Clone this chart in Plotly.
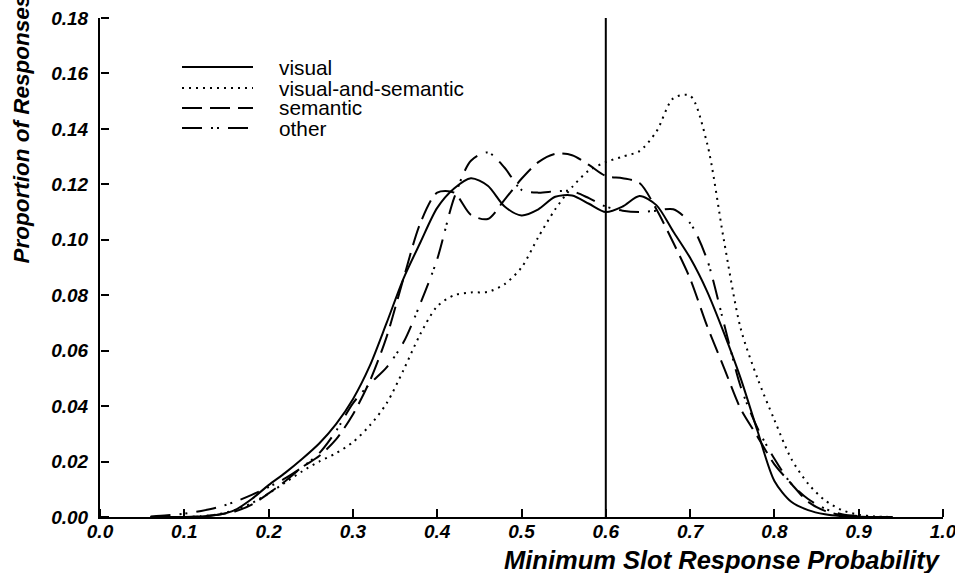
import plotly.graph_objects as go

# ---- data ----
x_grid = [0.06, 0.08, 0.10, 0.12, 0.14, 0.16, 0.18, 0.20, 0.22, 0.24, 0.26, 0.28,
          0.30, 0.32, 0.34, 0.36, 0.38, 0.40, 0.42, 0.44, 0.46, 0.48, 0.50, 0.52,
          0.54, 0.56, 0.58, 0.60, 0.62, 0.64, 0.66, 0.68, 0.70, 0.72, 0.74, 0.76,
          0.78, 0.80, 0.82, 0.84, 0.86, 0.88, 0.90, 0.92, 0.94]

visual = [0, 0, 0, 0.0002, 0.0008, 0.0025, 0.0065, 0.0115, 0.0160, 0.0210, 0.0265, 0.0335,
          0.0425, 0.0545, 0.0700, 0.0860, 0.0990, 0.1115, 0.1185, 0.1222, 0.1195, 0.1120, 0.1088, 0.1110,
          0.1155, 0.1160, 0.1130, 0.1100, 0.1120, 0.1158, 0.1125, 0.1030, 0.0935, 0.0815, 0.0665, 0.0500,
          0.0310, 0.0130, 0.0055, 0.0025, 0.0010, 0.0003, 0, 0, 0]

visual_and_semantic = [0, 0, 0, 0.0003, 0.0010, 0.0025, 0.0050, 0.0085, 0.0125, 0.0165, 0.0200, 0.0230,
                       0.0270, 0.0330, 0.0410, 0.0530, 0.0660, 0.0760, 0.0800, 0.0810, 0.0812, 0.0840, 0.0900, 0.1010,
                       0.1110, 0.1190, 0.1250, 0.1280, 0.1300, 0.1320, 0.1390, 0.1510, 0.1520, 0.1350, 0.1000, 0.0680,
                       0.0500, 0.0350, 0.0210, 0.0120, 0.0060, 0.0025, 0.0008, 0.0002, 0]

semantic = [0, 0, 0, 0.0002, 0.0008, 0.0020, 0.0045, 0.0085, 0.0130, 0.0180, 0.0220, 0.0280,
            0.0370, 0.0490, 0.0650, 0.0860, 0.1060, 0.1170, 0.1170, 0.1090, 0.1075, 0.1145, 0.1220, 0.1280,
            0.1310, 0.1305, 0.1270, 0.1230, 0.1222, 0.1205, 0.1110, 0.0990, 0.0860, 0.0690, 0.0540, 0.0390,
            0.0290, 0.0190, 0.0120, 0.0055, 0.0022, 0.0006, 0.0001, 0, 0]

other = [0.0002, 0.0006, 0.0012, 0.0022, 0.0035, 0.0055, 0.0080, 0.0108, 0.0140, 0.0180, 0.0230, 0.0310,
         0.0410, 0.0480, 0.0540, 0.0630, 0.0770, 0.0930, 0.1150, 0.1285, 0.1315, 0.1260, 0.1180, 0.1170,
         0.1175, 0.1175, 0.1150, 0.1120, 0.1105, 0.1100, 0.1105, 0.1110, 0.1060, 0.0930, 0.0700, 0.0470,
         0.0320, 0.0210, 0.0120, 0.0065, 0.0030, 0.0010, 0.0003, 0, 0]

series_names = ["visual", "visual-and-semantic", "semantic", "other"]
series_values = [visual, visual_and_semantic, semantic, other]
series_dash = ["solid", "2px,5px", "20px,8px", "20px,9px,2px,4px,2px,9px"]

threshold_x = [0.6, 0.6]
threshold_y = [0.0, 0.18]

x_ticks = [0.0, 0.1, 0.2, 0.3, 0.4, 0.5, 0.6, 0.7, 0.8, 0.9, 1.0]
x_tick_labels = ["0.0", "0.1", "0.2", "0.3", "0.4", "0.5", "0.6", "0.7", "0.8", "0.9", "1.0"]
y_ticks = [0.00, 0.02, 0.04, 0.06, 0.08, 0.10, 0.12, 0.14, 0.16, 0.18]
y_tick_labels = ["0.00", "0.02", "0.04", "0.06", "0.08", "0.10", "0.12", "0.14", "0.16", "0.18"]

x_title = "Minimum Slot Response Probability"
y_title = "Proportion of Responses"

# ---- figure ----
W, H = 955, 573
ML, MR, MT, MB = 100, 12, 18, 56
PW, PH = W - ML - MR, H - MT - MB

FONT = "Liberation Sans, Arial, sans-serif"

fig = go.Figure()
for name, vals, dash in zip(series_names, series_values, series_dash):
    fig.add_trace(go.Scatter(
        x=x_grid, y=vals, mode="lines", name=name,
        line=dict(color="black", width=2, dash=dash, shape="spline", smoothing=0.8),
        showlegend=False, cliponaxis=False,
    ))

fig.add_trace(go.Scatter(x=threshold_x, y=threshold_y, mode="lines",
                         line=dict(color="black", width=2), showlegend=False,
                         cliponaxis=False))

# legend drawn by hand (line samples + labels)
def px_to_paper_x(px):
    return (px - ML) / PW

def px_to_paper_y(py):
    return (H - MB - py) / PH

legend_rows = [67, 88, 108, 128]
shapes = []
annotations = []
for name, dash, row in zip(series_names, series_dash, legend_rows):
    shapes.append(dict(type="line", xref="paper", yref="paper",
                       x0=px_to_paper_x(182), x1=px_to_paper_x(253),
                       y0=px_to_paper_y(row), y1=px_to_paper_y(row),
                       line=dict(color="black", width=2, dash=dash)))
    annotations.append(dict(xref="paper", yref="paper",
                            x=px_to_paper_x(277), y=px_to_paper_y(row),
                            xanchor="left", yanchor="middle", showarrow=False,
                            text=name, font=dict(family=FONT, size=20.8, color="black")))

annotations.append(dict(xref="paper", yref="paper", x=1.0, y=px_to_paper_y(560),
                        xanchor="right", yanchor="middle", showarrow=False,
                        text=x_title,
                        font=dict(family=FONT, size=25.5, color="black",
                                  weight="bold", style="italic")))
annotations.append(dict(xref="paper", yref="paper", x=px_to_paper_x(21), y=px_to_paper_y(266),
                        xanchor="center", yanchor="bottom", showarrow=False,
                        textangle=-90, text=y_title,
                        font=dict(family=FONT, size=22.5, color="black",
                                  weight="bold", style="italic")))

tickfont = dict(family=FONT, size=19, color="black", weight="bold", style="italic")

fig.update_layout(
    width=W, height=H,
    margin=dict(l=ML, r=MR, t=MT, b=MB, pad=0),
    paper_bgcolor="white", plot_bgcolor="white",
    shapes=shapes, annotations=annotations,
    showlegend=False,
    xaxis=dict(range=[0, 1], tickmode="array", tickvals=x_ticks, ticktext=x_tick_labels,
               showgrid=False, zeroline=False, showline=True, linecolor="black",
               linewidth=2, ticks="", automargin=False,
               tickfont=tickfont, ticklabelstandoff=-4, ticklabeloverflow="allow"),
    yaxis=dict(range=[0, 0.18], tickmode="array", tickvals=y_ticks, ticktext=y_tick_labels,
               showgrid=False, zeroline=False, showline=True, linecolor="black",
               linewidth=2, ticks="", automargin=False,
               tickfont=tickfont, ticklabelstandoff=6, ticklabeloverflow="allow"),
    # companion axes that only carry the inward-pointing tick marks (incl. end ticks)
    xaxis2=dict(range=[0, 1], overlaying="x", anchor="free", position=0, side="top",
                tickmode="array", tickvals=x_ticks, showticklabels=False,
                showgrid=False, zeroline=False, showline=False, automargin=False,
                ticks="outside", ticklen=8, tickwidth=2, tickcolor="black"),
    yaxis2=dict(range=[0, 0.18], overlaying="y", anchor="free", position=0, side="right",
                tickmode="array", tickvals=y_ticks, showticklabels=False,
                showgrid=False, zeroline=False, showline=False, automargin=False,
                ticks="outside", ticklen=8, tickwidth=2, tickcolor="black"),
)

fig.add_trace(go.Scatter(x=[0, 1], y=[0, 0.18], xaxis="x2", yaxis="y2", mode="lines",
                         line=dict(width=0, color="rgba(0,0,0,0)"), showlegend=False,
                         hoverinfo="skip"))

fig.write_html("out.html")
